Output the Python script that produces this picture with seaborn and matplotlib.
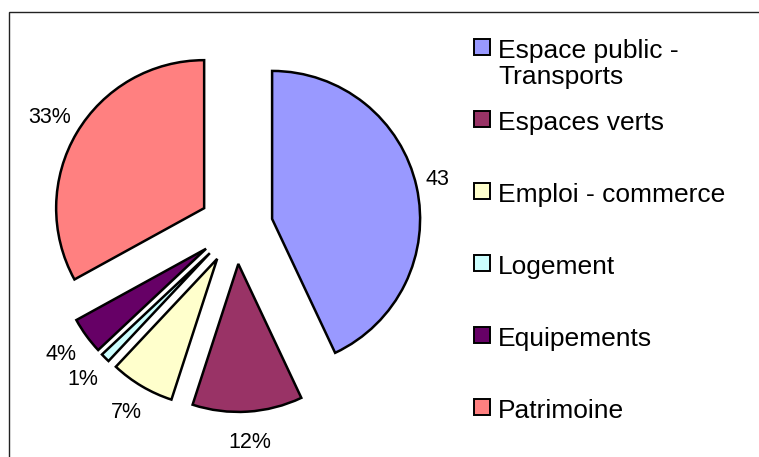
import matplotlib
matplotlib.use("Agg")
import matplotlib.pyplot as plt
from matplotlib.patches import Rectangle
import seaborn as sns

categories = ["Espace public -\nTransports", "Espaces verts", "Emploi - commerce",
              "Logement", "Equipements", "Patrimoine"]
values = [43, 12, 7, 1, 4, 33]
colors = ["#9999FF", "#993366", "#FFFFCC", "#CCFFFF", "#660066", "#FF8080"]

sns.set_theme(style="white")
plt.rcParams["font.family"] = ["Liberation Sans", "DejaVu Sans"]

W, H = 759, 457
fig = plt.figure(figsize=(W / 100, H / 100), dpi=100)
fig.patch.set_facecolor("white")

# pie axes over the whole figure, scaled so radius 1 = 148 px
cx, cy, r = 236, 227, 148
ax = fig.add_axes([0, 0, 1, 1])
pal = sns.color_palette(colors)
wedges, texts, autotexts = ax.pie(
    values, colors=pal, startangle=90, counterclock=False,
    explode=[0.25] * len(values), autopct=lambda p: f"{p:.0f}%",
    pctdistance=1.21, wedgeprops=dict(edgecolor="black", linewidth=1.8),
    textprops=dict(fontsize=15.5, color="black"))
ax.set_aspect("auto")
ax.set_xlim(-cx / r, (W - cx) / r)
ax.set_ylim(-(H - cy) / r, cy / r)
ax.axis("off")

# chart frame (right and bottom edges fall outside the picture)
fig.patches.append(Rectangle((9 / W, -0.1), 1.2, 1 - 12 / H + 0.1,
                             transform=fig.transFigure, fill=False,
                             edgecolor="#222222", linewidth=1.0))

# legend area, white, drawn over the pie (it hides the % of the 43 label)
lx = 448
leg = fig.add_axes([lx / W, 20 / H, (W - lx) / W, 420 / H])
leg.set_facecolor("white")
leg.set_xlim(lx, W)
leg.set_ylim(440, 20)
leg.set_xticks([])
leg.set_yticks([])
for s in leg.spines.values():
    s.set_visible(False)

y0, step = 50, 72
for i, (name, col) in enumerate(zip(categories, pal)):
    yc = y0 + i * step
    leg.add_patch(Rectangle((474, yc - 8), 16, 16, facecolor=col,
                            edgecolor="black", linewidth=1.4))
    leg.text(498, yc - 8, name, fontsize=19, va="top", ha="left",
             linespacing=1.1, color="black")

fig.savefig("out.png", dpi=100)
